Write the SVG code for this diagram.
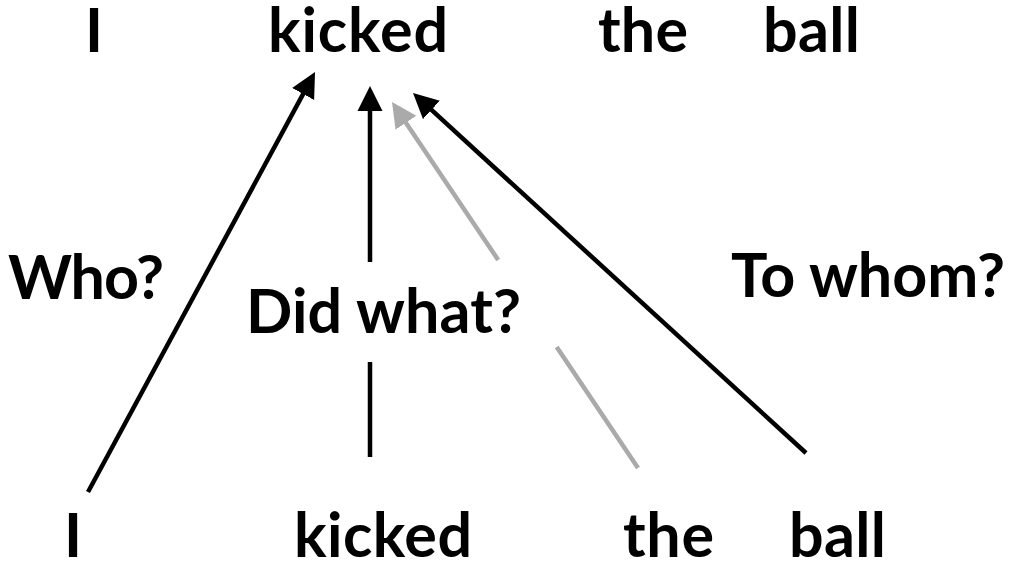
<svg xmlns="http://www.w3.org/2000/svg" width="1017" height="564" viewBox="0 0 1017 564">
  <style>
    .w { font-family: "Lato", "Open Sans", "Liberation Sans", sans-serif; font-weight: bold; font-size: 61px; fill: #000; }
    .lbl { font-family: "Lato", "Open Sans", "Liberation Sans", sans-serif; font-weight: bold; font-size: 61px; fill: #000; }
    .blk { stroke: #000; stroke-width: 4.5; fill: none; }
    .gry { stroke: #aaaaaa; stroke-width: 4.5; fill: none; }
  </style>
  <defs>
    <marker id="ah" markerUnits="userSpaceOnUse" viewBox="0 -13 26 26" refX="1" refY="0" markerWidth="26" markerHeight="26" orient="auto">
      <path d="M0,-12.5 L25,0 L0,12.5 z" fill="#000"/>
    </marker>
    <marker id="ahg" markerUnits="userSpaceOnUse" viewBox="0 -13 26 26" refX="1" refY="0" markerWidth="26" markerHeight="26" orient="auto">
      <path d="M0,-12.5 L25,0 L0,12.5 z" fill="#aaaaaa"/>
    </marker>
  </defs>

  <g id="top-I"><text class="w" x="85" y="52">I</text></g>
  <g id="top-kicked"><text class="w" x="268" y="52" textLength="180">kicked</text></g>
  <g id="top-the"><text class="w" x="598" y="52" textLength="90">the</text></g>
  <g id="top-ball"><text class="w" x="763" y="52" textLength="97">ball</text></g>

  <g id="bot-I"><text class="w" x="64" y="557">I</text></g>
  <g id="bot-kicked"><text class="w" x="294" y="557" textLength="178">kicked</text></g>
  <g id="bot-the"><text class="w" x="623" y="557" textLength="91">the</text></g>
  <g id="bot-ball"><text class="w" x="789" y="557" textLength="97">ball</text></g>

  <g id="connectors">
    <line class="blk" x1="88" y1="492" x2="303.6" y2="93.1" marker-end="url(#ah)"/>
    <line class="blk" x1="370" y1="457" x2="370" y2="362"/>
    <line class="blk" x1="370" y1="262" x2="370" y2="110" marker-end="url(#ah)"/>
    <line class="gry" x1="638" y1="468" x2="556.7" y2="347"/>
    <line class="gry" x1="498.2" y1="260" x2="405.4" y2="121.9" marker-end="url(#ahg)"/>
    <line class="blk" x1="806" y1="453" x2="430.7" y2="109.2" marker-end="url(#ah)"/>
  </g>

  <g id="label-who"><text class="lbl" x="8" y="299" textLength="156">Who?</text></g>
  <g id="label-didwhat"><text class="lbl" x="246" y="333" textLength="275">Did what?</text></g>
  <g id="label-towhom"><text class="lbl" x="731" y="297" textLength="274">To whom?</text></g>
</svg>
